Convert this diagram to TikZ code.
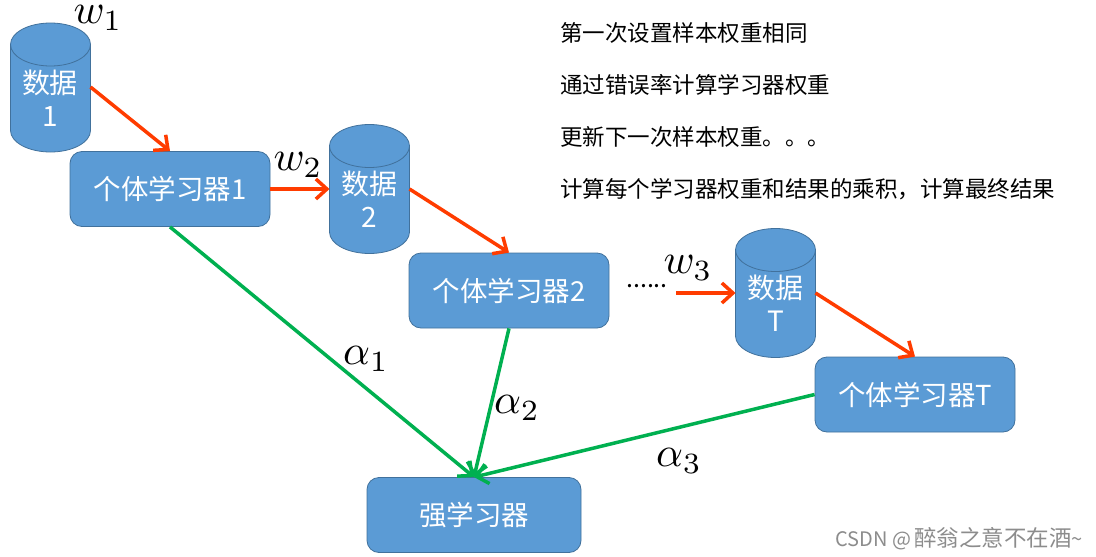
\documentclass[tikz,border=0pt]{standalone}
\usepackage{amsmath}
\usepackage{fontspec}
\setmainfont{Noto Sans CJK SC}
\usetikzlibrary{arrows.meta}
\definecolor{boxblue}{HTML}{5B9BD5}
\definecolor{boxedge}{HTML}{41719C}
\definecolor{weightred}{HTML}{FF3C00}
\definecolor{alphagreen}{HTML}{00B050}
\tikzset{
    learner/.style={draw=boxedge, line width=0.8pt, fill=boxblue, text=white, rounded corners=12pt, minimum width=200pt, minimum height=75pt, inner sep=0pt, font=\fontsize{27.5}{32}\selectfont},
    datastore/.style={minimum width=80pt, minimum height=129pt, inner sep=0pt, outer sep=0pt},
    drumline/.style={draw=boxedge, line width=0.8pt, fill=boxblue},
    capedge/.style={draw=boxedge, line width=0.8pt},
    storetext/.style={text=white, inner sep=0pt, align=center, font=\fontsize{28}{33}\selectfont},
    weightline/.style={draw=weightred, line width=3.5pt, -{Straight Barb[length=11pt,width=20pt,line width=3.5pt]}},
    alphaline/.style={draw=alphagreen, line width=3.5pt, -{Straight Barb[length=11pt,width=20pt,line width=3.5pt]}},
    mathlabel/.style={inner sep=0pt, scale=4.2},
    note/.style={anchor=west, inner sep=0pt, font=\fontsize{22.5}{26}\selectfont}
}
% drum outline round a named node
\newcommand{\drumshape}[1]{
    \draw[drumline] ([yshift=-21.5pt]#1.north west) arc[start angle=180, end angle=0, x radius=40pt, y radius=21.5pt]
        -- ([yshift=21.5pt]#1.south east) arc[start angle=360, end angle=180, x radius=40pt, y radius=21.5pt] -- cycle;
    \draw[capedge] ([yshift=-21.5pt]#1.north west) arc[start angle=180, end angle=360, x radius=40pt, y radius=21.5pt];
}
\begin{document}
\begin{tikzpicture}[x=1pt, y=-1pt]
        \useasboundingbox (0,0) rectangle (1096,557);

        % Data stores
        \node[datastore] (data1) at (50.5,87.5) {};
        \node[datastore] (data2) at (369.5,189) {};
        \node[datastore] (dataT) at (775.5,293) {};
        \drumshape{data1}
        \drumshape{data2}
        \drumshape{dataT}
        \node[storetext] (text1) at (50,98) {数据\\1};
        \node[storetext] (text2) at (369.5,199) {数据\\2};
        \node[storetext] (textT) at (775.5,303) {数据\\T};

        % Learners
        \node[learner] (learner1) at (170,189) {个体学习器1};
        \node[learner] (learner2) at (509,290.5) {个体学习器2};
        \node[learner] (learnerT) at (915,394.5) {个体学习器T};
        \node[learner, minimum width=214pt] (strong) at (474,515) {强学习器};

        % Free ends
        \node[inner sep=0pt, font=\fontsize{25}{28}\selectfont] (dots) at (647,286) {......};
        \coordinate (start1) at (0,87);
        \coordinate (start2) at (0,189);
        \coordinate (start3) at (676,293);

        % Weight arrows
        \draw[weightline] (data1.east |- start1) -- (learner1.north);
        \draw[weightline] (learner1.east) -- (data2.west |- learner1.east);
        \draw[weightline] (data2.east |- start2) -- (learner2.north);
        \draw[weightline] (start3) -- (dataT.west |- start3);
        \draw[weightline] (dataT.east |- start3) -- (learnerT.north);

        % Alpha arrows
        \draw[alphaline] (learner1.south) -- (strong.north);
        \draw[alphaline] (learner2.south) -- (strong.north);
        \draw[alphaline] (learnerT.west) -- (strong.north);

        % Labels
        \node[mathlabel] (w1) at (98,18) {$w_1$};
        \node[mathlabel] (w2) at (298,165) {$w_2$};
        \node[mathlabel] (w3) at (688,268) {$w_3$};
        \node[mathlabel] (a1) at (366,359) {$\alpha_1$};
        \node[mathlabel] (a2) at (517,408) {$\alpha_2$};
        \node[mathlabel] (a3) at (679,461) {$\alpha_3$};

        % Notes
        \node[note] (note1) at (560,33) {第一次设置样本权重相同};
        \node[note] (note2) at (560,85) {通过错误率计算学习器权重};
        \node[note] (note3) at (560,137) {更新下一次样本权重。。。};
        \node[note] (note4) at (560,189) {计算每个学习器权重和结果的乘积，计算最终结果};

        % Watermark
        \node[anchor=east, inner sep=0pt, text=black!45, font=\fontsize{20}{24}\selectfont] (mark) at (1083,539) {CSDN @\hspace{3pt}{\fontsize{22.5}{24}\selectfont 醉翁之意不在酒}\textasciitilde};
\end{tikzpicture}
\end{document}
